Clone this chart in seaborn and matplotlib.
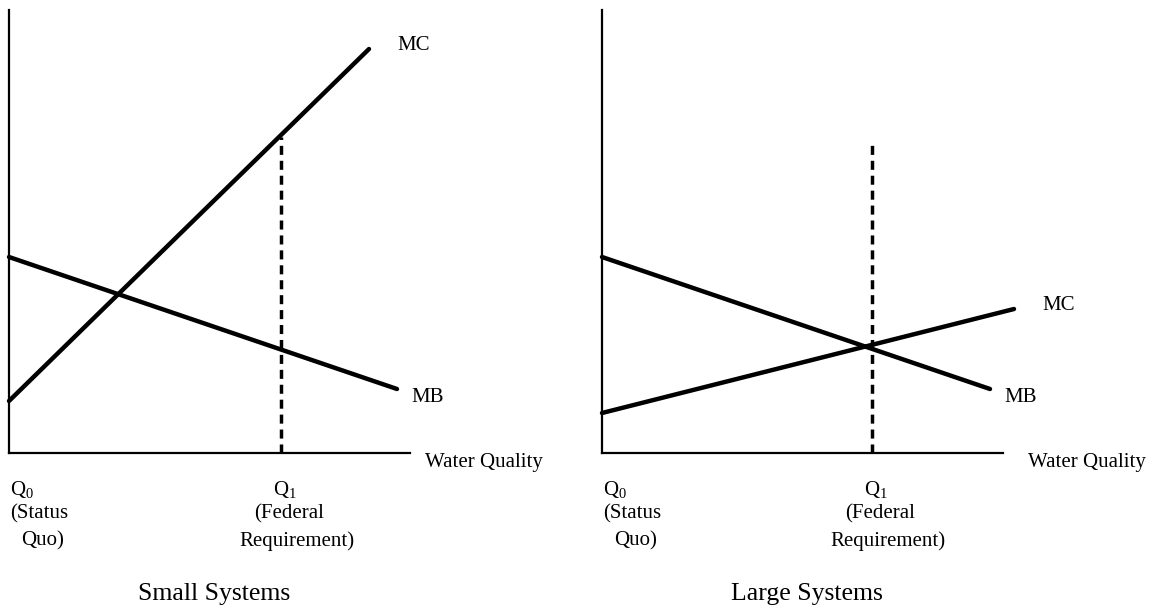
import pandas as pd
import matplotlib.pyplot as plt
import seaborn as sns

# Valores (unidades arbitrarias, eixo x = qualidade da agua)
panel_titles = ['Small Systems', 'Large Systems']

small_mc_x = [0.0, 9.0]
small_mc_y = [1.3, 10.1]
small_mb_x = [0.0, 9.7]
small_mb_y = [4.9, 1.6]
small_q1 = 6.8
small_q1_top = 7.9

large_mc_x = [0.0, 10.3]
large_mc_y = [1.0, 3.6]
large_mb_x = [0.0, 9.7]
large_mb_y = [4.9, 1.6]
large_q1 = 6.75
large_q1_top = 7.8

sns.set_theme(style='white')
plt.rcParams['font.family'] = ['Liberation Serif', 'DejaVu Serif']
plt.rcParams['text.color'] = 'black'
plt.rcParams['mathtext.fontset'] = 'custom'
plt.rcParams['mathtext.rm'] = 'Liberation Serif'
plt.rcParams['mathtext.it'] = 'Liberation Serif:italic'

W, H = 1156, 609
fig = plt.figure(figsize=(W / 100, H / 100), dpi=100)

paineis = [
    dict(left=9, mc_x=small_mc_x, mc_y=small_mc_y, mb_x=small_mb_x, mb_y=small_mb_y,
         q1=small_q1, q1_top=small_q1_top, mc_lbl=(9.72, 10.2), mb_lbl=(10.07, 1.38),
         wq_x=10.4),
    dict(left=602, mc_x=large_mc_x, mc_y=large_mc_y, mb_x=large_mb_x, mb_y=large_mb_y,
         q1=large_q1, q1_top=large_q1_top, mc_lbl=(11.02, 3.68), mb_lbl=(10.05, 1.4),
         wq_x=10.65),
]

fs = 15
for p, titulo in zip(paineis, panel_titles):
    ax = fig.add_axes([p['left'] / W, (H - 453) / H, 401 / W, 443 / H])
    ax.set_xlim(0, 10.025)
    ax.set_ylim(0, 11.075)

    mc = pd.DataFrame({'x': p['mc_x'], 'y': p['mc_y']})
    mb = pd.DataFrame({'x': p['mb_x'], 'y': p['mb_y']})
    sns.lineplot(data=mc, x='x', y='y', ax=ax, color='black', linewidth=3.2,
                 estimator=None, sort=False, clip_on=False, solid_capstyle='round')
    sns.lineplot(data=mb, x='x', y='y', ax=ax, color='black', linewidth=3.2,
                 estimator=None, sort=False, clip_on=False, solid_capstyle='round')
    ax.plot([p['q1'], p['q1']], [0, p['q1_top']], color='black', linewidth=2.5,
            linestyle=(0, (2.6, 1.7)), clip_on=False)

    for s in ['top', 'right']:
        ax.spines[s].set_visible(False)
    for s in ['left', 'bottom']:
        ax.spines[s].set_color('black')
        ax.spines[s].set_linewidth(1.6)
    ax.set_xticks([])
    ax.set_yticks([])
    ax.set_xlabel('')
    ax.set_ylabel('')

    ax.text(p['mc_lbl'][0], p['mc_lbl'][1], 'MC', fontsize=fs, va='center', ha='left')
    ax.text(p['mb_lbl'][0], p['mb_lbl'][1], 'MB', fontsize=fs, va='center', ha='left')
    ax.text(p['wq_x'], -0.25, 'Water Quality', fontsize=fs, va='center', ha='left',
            clip_on=False)

    # rotulos abaixo do eixo (em pixels relativos ao eixo)
    def px(xp, yp):
        return (xp - p['left']) / 40, (453 - yp) / 40

    ax.text(*px(p['left'] + 1, 489), r'Q$_\mathrm{0}$', fontsize=fs, va='center', ha='left')
    ax.text(*px(p['left'] + 1, 514), '(Status', fontsize=fs, va='center', ha='left')
    ax.text(*px(p['left'] + 12, 541), 'Quo)', fontsize=fs, va='center', ha='left')

    q1_px = p['left'] + p['q1'] * 40
    ax.text(*px(q1_px - 8, 489), r'Q$_\mathrm{1}$', fontsize=fs, va='center', ha='left')
    ax.text(*px(q1_px + 8, 514), '(Federal', fontsize=fs, va='center', ha='center')
    ax.text(*px(q1_px + 16, 541), 'Requirement)', fontsize=fs, va='center', ha='center')

    ax.text(*px(p['left'] + 205, 594), titulo, fontsize=18.5, va='center', ha='center')

fig.savefig('out.png', dpi=100)
